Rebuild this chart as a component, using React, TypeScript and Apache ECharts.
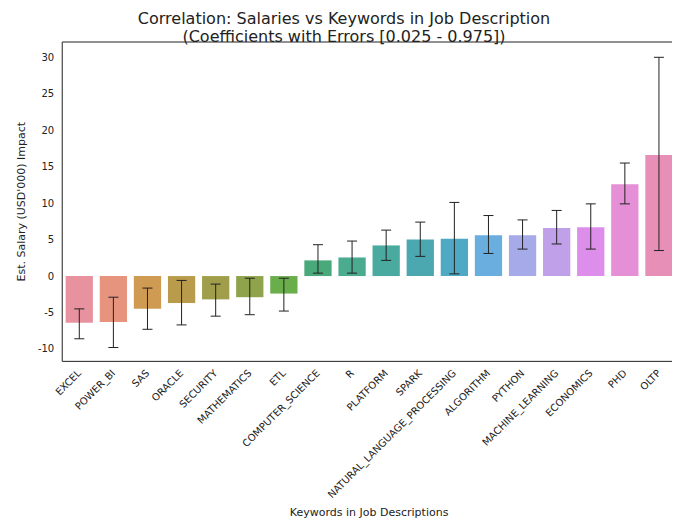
import * as echarts from "echarts";
import { useEffect, useRef } from "react";

const keywords = ["EXCEL", "POWER_BI", "SAS", "ORACLE", "SECURITY", "MATHEMATICS", "ETL", "COMPUTER_SCIENCE", "R", "PLATFORM", "SPARK", "NATURAL_LANGUAGE_PROCESSING", "ALGORITHM", "PYTHON", "MACHINE_LEARNING", "ECONOMICS", "PHD", "OLTP"];
const coefs = [-6.4, -6.3, -4.5, -3.7, -3.2, -2.9, -2.4, 2.15, 2.55, 4.2, 5.0, 5.1, 5.6, 5.6, 6.6, 6.7, 12.6, 16.6];
const errLow = [-8.6, -9.8, -7.3, -6.7, -5.5, -5.3, -4.8, 0.4, 0.4, 2.15, 2.7, 0.3, 3.1, 3.7, 4.4, 3.7, 9.9, 3.5];
const errHigh = [-4.5, -2.9, -1.65, -0.6, -1.1, -0.3, -0.3, 4.3, 4.8, 6.3, 7.4, 10.1, 8.3, 7.7, 9.0, 9.9, 15.5, 30.0];
const colors = ["#e8929f", "#e6947e", "#cf9a52", "#b89b4b", "#a19e4b", "#8ea34b", "#6aae4c", "#4aa97a", "#4bab8f", "#4aaaa0", "#4ba8b0", "#50a9c4", "#6aaee0", "#a6aae8", "#c0a0e8", "#dd8eea", "#e48fd6", "#e88fb8"];

export default function App() {
  const ref = useRef<HTMLDivElement | null>(null);

  useEffect(() => {
    if (!ref.current) return;
    const chart = echarts.init(ref.current, null, { renderer: "svg" });
    chart.setOption({
      animation: false,
      textStyle: { fontFamily: "DejaVu Sans" },
      title: {
        text: "Correlation: Salaries vs Keywords in Job Description\n(Coefficients with Errors [0.025 - 0.975])",
        left: "center",
        top: -4,
        textStyle: { fontSize: 16, fontWeight: "normal", color: "#222", lineHeight: 18 },
      },
      grid: { left: 42, right: 4, top: 34, bottom: 155, show: true, borderColor: "#222", borderWidth: 1 },
      xAxis: {
        type: "category",
        data: keywords,
        name: "Keywords in Job Descriptions",
        nameLocation: "middle",
        nameGap: 137,
        nameTextStyle: { fontSize: 11, color: "#222" },
        axisLine: { show: false },
        axisTick: { show: false },
        axisLabel: { rotate: 45, fontSize: 10, color: "#222", interval: 0, margin: 10 },
      },
      yAxis: {
        type: "value",
        min: -11.7,
        max: 32.1,
        splitNumber: 10,
        name: "Est. Salary (USD'000) Impact",
        nameLocation: "middle",
        nameGap: 30,
        nameTextStyle: { fontSize: 11, color: "#222" },
        axisLine: { show: false },
        axisTick: { show: false },
        splitLine: { show: false },
        axisLabel: { fontSize: 10, color: "#222", showMinLabel: false, showMaxLabel: false },
      },
      series: [
        {
          type: "bar",
          barCategoryGap: "20%",
          data: coefs.map((v, i) => ({ value: v, itemStyle: { color: colors[i] } })),
        },
        {
          type: "custom",
          data: keywords.map((_, i) => [i, errLow[i], errHigh[i]]),
          renderItem: (_p: any, api: any) => {
            const lo = api.coord([api.value(0), api.value(1)]);
            const hi = api.coord([api.value(0), api.value(2)]);
            const w = 5;
            const style = { stroke: "#222", lineWidth: 1 };
            return {
              type: "group",
              children: [
                { type: "line", shape: { x1: lo[0], y1: lo[1], x2: hi[0], y2: hi[1] }, style },
                { type: "line", shape: { x1: lo[0] - w, y1: lo[1], x2: lo[0] + w, y2: lo[1] }, style },
                { type: "line", shape: { x1: hi[0] - w, y1: hi[1], x2: hi[0] + w, y2: hi[1] }, style },
              ],
            };
          },
          z: 10,
        },
      ],
    });
    return () => chart.dispose();
  }, []);

  return <div ref={ref} style={{ width: 672, height: 515 }} />;
}
